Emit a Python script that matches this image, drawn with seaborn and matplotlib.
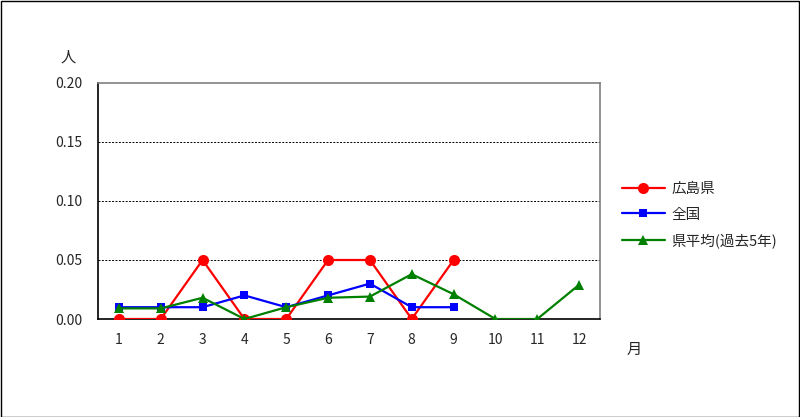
import numpy as np
import pandas as pd
import matplotlib
matplotlib.use("Agg")
import matplotlib.pyplot as plt
import seaborn as sns
from matplotlib.patches import Rectangle

months = list(range(1, 13))
hiroshima = [0, 0, 0.05, 0, 0, 0.05, 0.05, 0, 0.05, np.nan, np.nan, np.nan]
zenkoku = [0.01, 0.01, 0.01, 0.02, 0.01, 0.02, 0.03, 0.01, 0.01, np.nan, np.nan, np.nan]
ken_avg = [0.009, 0.009, 0.018, 0, 0.01, 0.018, 0.019, 0.038, 0.021, 0, 0, 0.029]
series_names = ["広島県", "全国", "県平均(過去5年)"]

df = pd.DataFrame({
    "月": months * 3,
    "人": hiroshima + zenkoku + ken_avg,
    "系列": [series_names[0]] * 12 + [series_names[1]] * 12 + [series_names[2]] * 12,
}).dropna()

sns.set_style("white")
plt.rcParams['font.family'] = ['Noto Sans CJK JP', 'DejaVu Sans']

fig = plt.figure(figsize=(8, 4.17), dpi=100)
ax = fig.add_axes([0.1225, 0.235, 0.6275, 0.566])

palette = {series_names[0]: "#ff0000", series_names[1]: "#0000ff", series_names[2]: "#008000"}
markers = {series_names[0]: "o", series_names[1]: "s", series_names[2]: "^"}
sizes = {series_names[0]: 8, series_names[1]: 6, series_names[2]: 6.5}

for name in series_names:
    sub = df[df["系列"] == name]
    sns.lineplot(data=sub, x="月", y="人", color=palette[name], marker=markers[name],
                 markersize=sizes[name], markeredgewidth=0, linewidth=1.6,
                 label=name, ax=ax, zorder=3)

ax.set_xlim(0.5, 12.5)
ax.set_ylim(0, 0.2)
ax.set_yticks([0, 0.05, 0.10, 0.15, 0.20])
ax.set_yticklabels(["0.00", "0.05", "0.10", "0.15", "0.20"], fontsize=10)
ax.set_xticks(months)
ax.set_xticklabels([str(m) for m in months], fontsize=10)
ax.tick_params(axis='x', length=0, pad=10)
ax.set_xticks(np.arange(1.5, 12.5, 1), minor=True)
ax.tick_params(axis='x', which='minor', direction='in', length=4, width=0.8, color='black')
ax.tick_params(axis='y', direction='out', length=3, width=0.8, color='black', pad=8)

for yv in [0.05, 0.10, 0.15]:
    ax.axhline(yv, color='black', linestyle=(0, (2, 1.5)), linewidth=0.7, zorder=1)

for s in ['left', 'bottom']:
    ax.spines[s].set_color('black')
    ax.spines[s].set_linewidth(1.2)
for s in ['top', 'right']:
    ax.spines[s].set_color('#808080')
    ax.spines[s].set_linewidth(1.2)

ax.set_xlabel("")
ax.set_ylabel("")
fig.text(68 / 800, 1 - 57 / 417, "人", fontsize=11, ha='center', va='center')
fig.text(634 / 800, 1 - 349 / 417, "月", fontsize=11, ha='center', va='center')

ax.legend(loc='upper left', bbox_to_anchor=(1.03, 0.613), frameon=False, fontsize=10.5,
          handlelength=2.9, labelspacing=0.82, handletextpad=0.45, borderpad=0)

fig.patches.append(Rectangle((0.001, 0.001), 0.998, 0.997, transform=fig.transFigure,
                             fill=False, edgecolor='black', linewidth=1))

fig.savefig("out.png", dpi=100)
